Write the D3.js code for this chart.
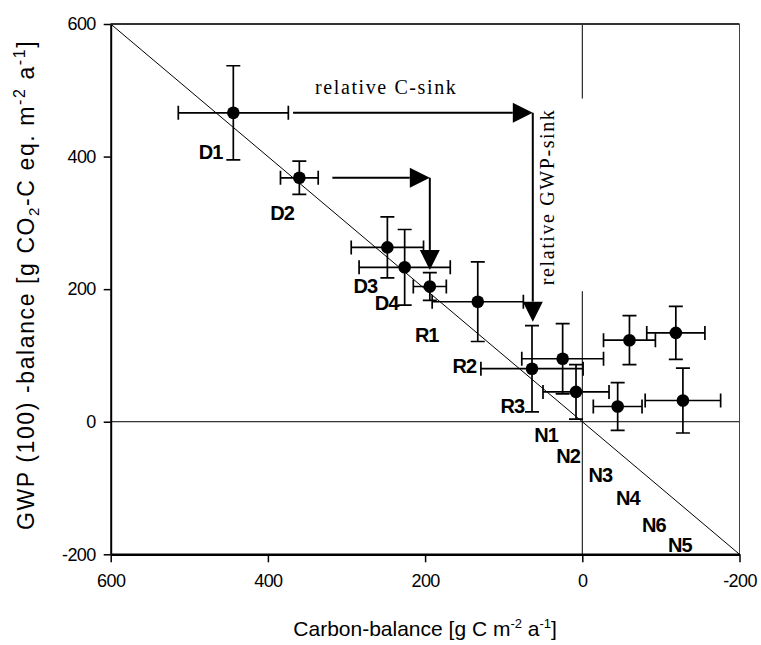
<!DOCTYPE html>
<html>
<head>
<meta charset="utf-8">
<script src="https://cdn.jsdelivr.net/npm/d3@7/dist/d3.min.js"></script>
<style>
  body { margin: 0; background: #fff; }
  svg { display: block; }
</style>
</head>
<body>
<svg id="chart" width="761" height="645"></svg>
<script>
// Sites and their annual balances (x: carbon, y: GWP(100)), with error half-widths
const sites          = ["D1", "D2", "D3", "D4", "R1", "R2", "R3", "N1", "N2", "N3", "N4", "N5", "N6"];
const carbonBalance  = [444, 360, 248, 226, 194, 133, 64, 25, 8, -45, -60, -128, -119];
const carbonError    = [70, 24, 46, 58, 21, 58, 65, 52, 42, 31, 33, 48, 37];
const gwpBalance     = [466, 368, 263, 233, 204, 181, 80, 95, 45, 23, 123, 32, 134];
const gwpError       = [71, 25, 46, 57, 21, 60, 65, 53, 41, 36, 37, 49, 40];

// Axis ticks
const xTicks = [600, 400, 200, 0, -200];
const yTicks = [600, 400, 200, 0, -200];

// Site label anchors (data units: centre, baseline)
const labelNames = ["D1", "D2", "D3", "D4", "R1", "R2", "R3", "N1", "N2", "N3", "N4", "N6", "N5"];
const labelAtC   = [473, 382, 276, 249, 198, 150, 89, 46, 18, -23, -58, -91, -124];
const labelAtG   = [397, 304, 194, 168, 121, 73, 13, -31, -63, -91, -126, -166, -196];

// Sink arrows: start, corner (horizontal level), vertical end
const arrowStartC  = [368, 318];
const arrowCornerC = [63, 194];
const arrowLevelG  = [466, 368];
const arrowEndG    = [151, 229];

const W = 761, H = 645;
const margin = { left: 110.7, top: 24, right: 21.5, bottom: 90.7 };

const svg = d3.select("#chart");

const x = d3.scaleLinear().domain([600, -200]).range([margin.left, W - margin.right]);
const y = d3.scaleLinear().domain([600, -200]).range([margin.top, H - margin.bottom]);

const sans = "'Liberation Sans', Arial, sans-serif";
const serif = "'Liberation Serif', 'Times New Roman', serif";

// 1:1 line
svg.append("line")
  .attr("x1", x(600)).attr("y1", y(600))
  .attr("x2", x(-200)).attr("y2", y(-200))
  .attr("stroke", "#000").attr("stroke-width", 1);

// zero reference lines
svg.append("line")
  .attr("x1", x(600)).attr("x2", x(-200))
  .attr("y1", y(0)).attr("y2", y(0))
  .attr("stroke", "#000").attr("stroke-width", 1);
svg.append("line")
  .attr("x1", x(0)).attr("x2", x(0))
  .attr("y1", y(600)).attr("y2", y(-200))
  .attr("stroke", "#000").attr("stroke-width", 1);

// frame (top, right)
svg.append("line")
  .attr("x1", x(600)).attr("x2", x(-200))
  .attr("y1", y(600)).attr("y2", y(600))
  .attr("stroke", "#333").attr("stroke-width", 2);
svg.append("line")
  .attr("x1", x(-200)).attr("x2", x(-200))
  .attr("y1", y(600)).attr("y2", y(-200))
  .attr("stroke", "#444").attr("stroke-width", 1);

// relative GWP-sink label on a white box (interrupts the zero line)
const gwpLabel = svg.append("g");
const gwpText = gwpLabel.append("text")
  .attr("transform", `translate(${x(36)},${y(206)}) rotate(-90)`)
  .attr("font-family", serif).attr("font-size", 20)
  .attr("letter-spacing", 1.6)
  .attr("fill", "#000")
  .text("relative GWP-sink");
const textLen = gwpText.node().getComputedTextLength();
gwpLabel.insert("rect", "text")
  .attr("x", x(36) - 18)
  .attr("y", y(206) - textLen - 10)
  .attr("width", x(0) - x(36) + 22)
  .attr("height", textLen + 16)
  .attr("fill", "#fff");

// relative C-sink label
svg.append("text")
  .attr("x", x(340)).attr("y", y(494))
  .attr("font-family", serif).attr("font-size", 20)
  .attr("letter-spacing", 1.6)
  .attr("fill", "#000")
  .text("relative C-sink");

// sink arrows
const head = 20, halfHead = 10;
arrowStartC.forEach((c0, i) => {
  const xs = x(c0), xc = x(arrowCornerC[i]), yl = y(arrowLevelG[i]), ye = y(arrowEndG[i]);
  const g = svg.append("g");
  g.append("path")
    .attr("d", `M${xs},${yl}H${xc - head}`)
    .attr("stroke", "#000").attr("stroke-width", 2).attr("fill", "none");
  g.append("path")
    .attr("d", `M${xc},${yl}V${ye - head}`)
    .attr("stroke", "#000").attr("stroke-width", 2).attr("fill", "none");
  g.append("path")
    .attr("d", `M${xc},${yl}L${xc - head},${yl - halfHead}L${xc - head},${yl + halfHead}Z`)
    .attr("fill", "#000");
  g.append("path")
    .attr("d", `M${xc},${ye}L${xc - halfHead},${ye - head}L${xc + halfHead},${ye - head}Z`)
    .attr("fill", "#000");
});

// error bars and points
const cap = 7;
const pts = svg.append("g").attr("stroke", "#000").attr("stroke-width", 1.7);
sites.forEach((s, i) => {
  const cx = x(carbonBalance[i]), cy = y(gwpBalance[i]);
  const xl = x(carbonBalance[i] + carbonError[i]), xr = x(carbonBalance[i] - carbonError[i]);
  const yt = y(gwpBalance[i] + gwpError[i]), yb = y(gwpBalance[i] - gwpError[i]);
  pts.append("path")
    .attr("fill", "none")
    .attr("d",
      `M${xl},${cy}H${xr}` +
      `M${xl},${cy - cap}V${cy + cap}M${xr},${cy - cap}V${cy + cap}` +
      `M${cx},${yt}V${yb}` +
      `M${cx - cap},${yt}H${cx + cap}M${cx - cap},${yb}H${cx + cap}`);
});
svg.append("g").selectAll("circle")
  .data(sites)
  .join("circle")
  .attr("cx", (d, i) => x(carbonBalance[i]))
  .attr("cy", (d, i) => y(gwpBalance[i]))
  .attr("r", 6.3)
  .attr("fill", "#000");

// site labels
svg.append("g").selectAll("text")
  .data(labelNames)
  .join("text")
  .attr("x", (d, i) => x(labelAtC[i]))
  .attr("y", (d, i) => y(labelAtG[i]))
  .attr("text-anchor", "middle")
  .attr("font-family", sans).attr("font-weight", "bold").attr("font-size", 20)
  .attr("letter-spacing", -1)
  .attr("fill", "#000")
  .text(d => d);

// axes
const xAxis = svg.append("g")
  .attr("transform", `translate(0,${y(-200)})`)
  .call(d3.axisBottom(x).tickValues(xTicks).tickSize(8).tickPadding(12).tickSizeOuter(0)
    .tickFormat(d3.format("d")));
const yAxis = svg.append("g")
  .attr("transform", `translate(${x(600)},0)`)
  .call(d3.axisLeft(y).tickValues(yTicks).tickSize(7).tickPadding(8).tickSizeOuter(0)
    .tickFormat(d3.format("d")));
[xAxis, yAxis].forEach(a => {
  a.selectAll(".tick line").attr("stroke", "#000").attr("stroke-width", 1.5);
  a.selectAll(".tick text")
    .attr("font-family", sans).attr("font-size", 18)
    .attr("letter-spacing", -0.6)
    .attr("fill", "#000")
    .text(d => d < 0 ? "-" + Math.abs(d) : d);
});
xAxis.select(".domain").attr("stroke", "#000").attr("stroke-width", 2.5);
yAxis.select(".domain").attr("stroke", "#000").attr("stroke-width", 2);

// axis titles
const xt = svg.append("text")
  .attr("x", (x(600) + x(-200)) / 2).attr("y", 636)
  .attr("text-anchor", "middle")
  .attr("font-family", sans).attr("font-size", 21)
  .attr("fill", "#000");
xt.append("tspan").text("Carbon-balance [g C m");
xt.append("tspan").attr("font-size", 13).attr("dy", -8).text("-2");
xt.append("tspan").attr("dy", 8).text(" a");
xt.append("tspan").attr("font-size", 13).attr("dy", -8).text("-1");
xt.append("tspan").attr("dy", 8).text("]");

const yt = svg.append("text")
  .attr("transform", "translate(34,530) rotate(-90)")
  .attr("text-anchor", "start")
  .attr("font-family", sans).attr("font-size", 23)
  .attr("letter-spacing", 1.6)
  .attr("fill", "#000");
yt.append("tspan").text("GWP (100) -balance [g CO");
yt.append("tspan").attr("font-size", 15).attr("dy", 5).text("2");
yt.append("tspan").attr("dy", -5).text("-C eq. m");
yt.append("tspan").attr("font-size", 16).attr("dy", -9).text("-2");
yt.append("tspan").attr("dy", 9).text(" a");
yt.append("tspan").attr("font-size", 16).attr("dy", -9).text("-1");
yt.append("tspan").attr("dy", 9).text("]");
</script>
</body>
</html>
